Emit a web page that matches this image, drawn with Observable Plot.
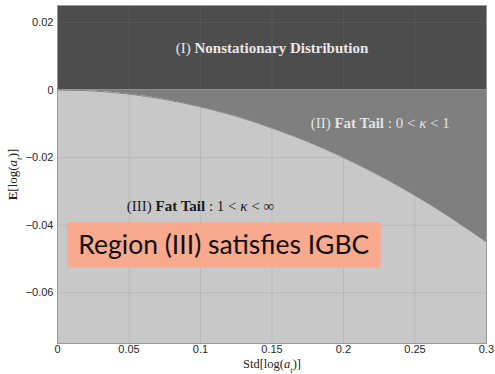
<!DOCTYPE html>
<html>
<head>
<meta charset="utf-8">
<script src="https://cdn.jsdelivr.net/npm/d3@7"></script>
<script src="https://cdn.jsdelivr.net/npm/@observablehq/plot@0.6"></script>
<style>
  html, body { margin: 0; padding: 0; background: #fff; }
</style>
</head>
<body>
<div id="chart"></div>
<script>
// Boundary curve between region II and III
const sigma    = [0, 0.025, 0.05, 0.075, 0.1, 0.125, 0.15, 0.175, 0.2, 0.225, 0.25, 0.275, 0.3];
const meanLogA = [0, -0.0003, -0.00125, -0.0028, -0.005, -0.0078, -0.0113, -0.0153, -0.02, -0.0253, -0.0312, -0.0378, -0.045];

const xDomain = [0, 0.3];
const yDomain = [-0.075, 0.025];

const xTicks = [0, 0.05, 0.1, 0.15, 0.2, 0.25, 0.3];
const xTickLabels = ["0", "0.05", "0.1", "0.15", "0.2", "0.25", "0.3"];
const yTicks = [0.02, 0, -0.02, -0.04, -0.06];
const yTickLabels = ["0.02", "0", "\u22120.02", "\u22120.04", "\u22120.06"];

const regionLabels = [
  {key: "I",   text: "(I) Nonstationary Distribution", x: 0.15,   y: 0.0124,  color: "#e8e8e8"},
  {key: "II",  text: "(II) Fat Tail : 0 < \u03ba < 1",  x: 0.2257, y: -0.0098, color: "#e4e4e4"},
  {key: "III", text: "(III) Fat Tail : 1 < \u03ba < \u221e", x: 0.1, y: -0.0343, color: "#1a1a1a"}
];
const noteText = "Region (III) satisfies IGBC";
const xLabel = "Std[log(a_t)]";
const yLabel = "E[log(a_t)]";

const curve = sigma.map((s, i) => ({s, m: meanLogA[i]}));
const serif = "'Liberation Serif', 'DejaVu Serif', serif";

const chart = Plot.plot({
  width: 495,
  height: 374,
  marginLeft: 57,
  marginRight: 9,
  marginTop: 5,
  marginBottom: 31,
  style: {background: "#fff", fontFamily: "'Liberation Sans', Arial, sans-serif"},
  x: {domain: xDomain},
  y: {domain: yDomain},
  marks: [
    // Region I
    Plot.rect([0], {x1: xDomain[0], x2: xDomain[1], y1: 0, y2: yDomain[1], fill: "#4d4d4d"}),
    // Region II
    Plot.areaY(curve, {x: "s", y1: 0, y2: "m", fill: "#7f7f7f", curve: "natural"}),
    // Region III
    Plot.areaY(curve, {x: "s", y1: "m", y2: yDomain[0], fill: "#c8c8c8", curve: "natural"}),
    Plot.gridX(xTicks, {stroke: "#808080", strokeOpacity: 0.2}),
    Plot.gridY(yTicks, {stroke: "#808080", strokeOpacity: 0.2}),
    Plot.line(curve, {x: "s", y: "m", stroke: "#1a1a1a", strokeWidth: 0.7, strokeOpacity: 0.6, strokeDasharray: "1.5,1", curve: "natural"}),
    // annotation box
    Plot.rect([0], {x1: 0.007, x2: 0.2264, y1: -0.0526, y2: -0.0393, fill: "#f9a98e"}),
    Plot.text([noteText], {x: 0.1163, y: -0.0459, text: d => d, fontSize: 26.5, fill: "#111",
      fontFamily: "Lato, 'Open Sans', sans-serif"}),
    // region labels
    Plot.text(regionLabels, {x: "x", y: "y", text: "text", fill: "color", fontSize: 15, fontFamily: serif}),
    // frame
    Plot.frame({stroke: "#9a9a9a", strokeWidth: 1}),
    Plot.axisX({ticks: xTicks, tickFormat: d => xTickLabels[xTicks.indexOf(d)], tickSize: 0, tickPadding: 2,
      fontSize: 11, fill: "#262626", label: null}),
    Plot.axisY({ticks: yTicks, tickFormat: d => yTickLabels[yTicks.indexOf(d)], tickSize: 0, tickPadding: 4,
      fontSize: 11, fill: "#262626", label: null}),
    // axis titles
    Plot.text([xLabel], {frameAnchor: "bottom", lineAnchor: "middle", textAnchor: "middle", dy: 20.5, text: d => d,
      fontSize: 12.5, fill: "#222", fontFamily: serif}),
    Plot.text([yLabel], {frameAnchor: "left", lineAnchor: "middle", textAnchor: "middle", dx: -45, rotate: -90,
      text: d => d, fontSize: 13, fill: "#222", fontFamily: serif})
  ]
});

// rich text formatting (bold, italic, subscripts)
const rich = {
  [xLabel]: 'Std[log(<tspan font-style="italic">a</tspan><tspan font-style="italic" font-size="70%" baseline-shift="sub">t</tspan>)]',
  [yLabel]: '<tspan font-weight="bold">E</tspan>[log(<tspan font-style="italic">a</tspan><tspan font-style="italic" font-size="70%" baseline-shift="sub">t</tspan>)]',
  [regionLabels[0].text]: '(I) <tspan font-weight="bold">Nonstationary Distribution</tspan>',
  [regionLabels[1].text]: '(II) <tspan font-weight="bold">Fat Tail</tspan> : 0 &lt; <tspan font-style="italic">\u03ba</tspan> &lt; 1',
  [regionLabels[2].text]: '(III) <tspan font-weight="bold">Fat Tail</tspan> : 1 &lt; <tspan font-style="italic">\u03ba</tspan> &lt; \u221e'
};
chart.querySelectorAll("text").forEach(t => {
  const s = t.textContent;
  if (rich[s] && t.children.length === 0) t.innerHTML = rich[s];
});

document.getElementById("chart").appendChild(chart);
</script>
</body>
</html>
